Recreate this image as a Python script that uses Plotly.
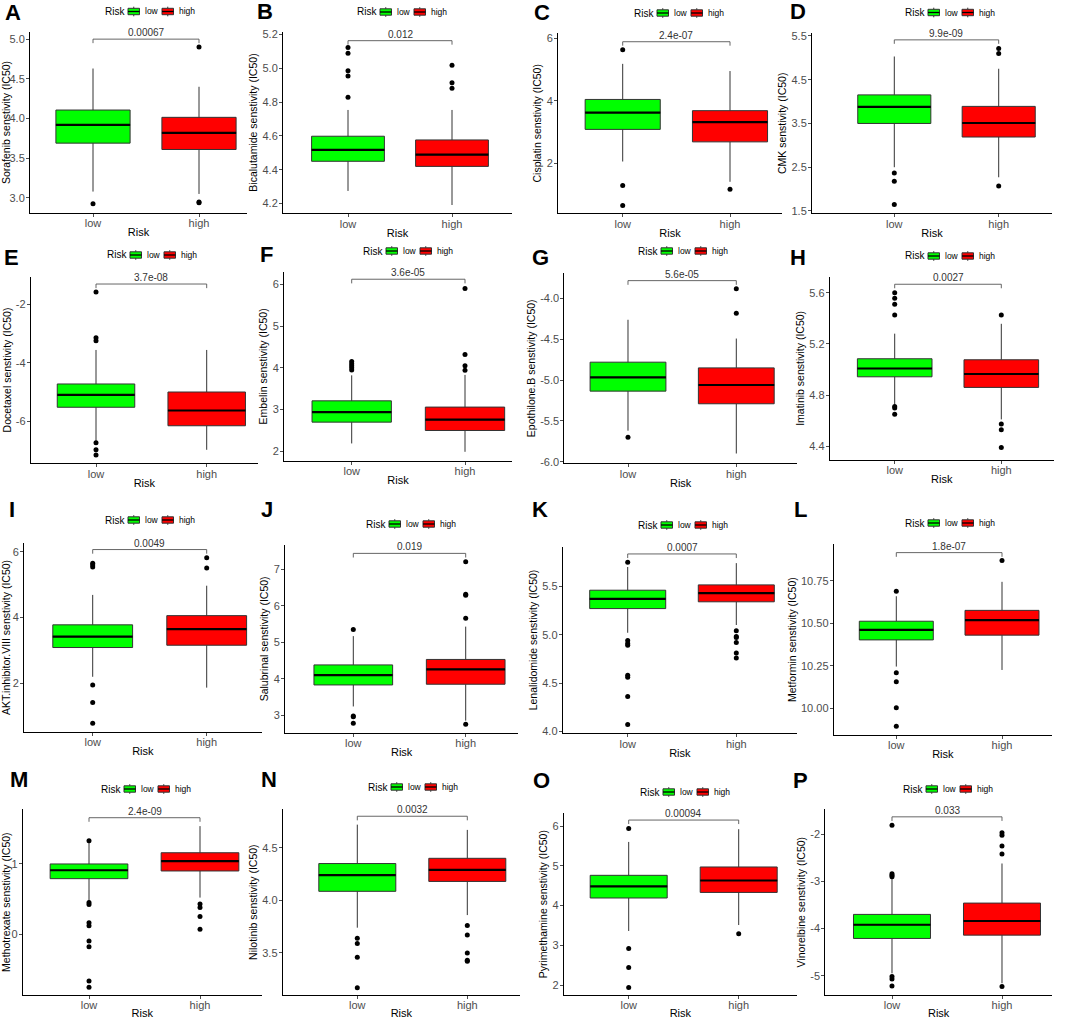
import plotly.graph_objects as go

W, H = 1065, 1019

# ---- data ----
letters = list("ABCDEFGHIJKLMNOP")
drugs = ["Sorafenib", "Bicalutamide", "Cisplatin", "CMK", "Docetaxel", "Embelin",
         "Epothilone.B", "Imatinib", "AKT.inhibitor.VIII", "Salubrinal", "Lenalidomide",
         "Metformin", "Methotrexate", "Nilotinib", "Pyrimethamine", "Vinorelbine"]
p_labels = ["0.00067", "0.012", "2.4e-07", "9.9e-09", "3.7e-08", "3.6e-05", "5.6e-05", "0.0027",
            "0.0049", "0.019", "0.0007", "1.8e-07", "2.4e-09", "0.0032", "0.00094", "0.033"]
groups = ["low", "high"]

low_q1 = [3.69, 4.45, 3.09, 3.50, -5.51, 2.70, -5.135, 4.943, 3.09, 3.83, 5.27, 10.403, 0.79, 4.086, 4.19, -4.21]
low_med = [3.92, 4.517, 3.63, 3.88, -5.09, 2.94, -4.967, 5.008, 3.42, 4.10, 5.37, 10.462, 0.91, 4.24, 4.48, -3.92]
low_q3 = [4.107, 4.598, 4.05, 4.153, -4.716, 3.21, -4.78, 5.084, 3.78, 4.38, 5.46, 10.513, 1.00, 4.35, 4.76, -3.70]
low_lo = [3.08, 4.275, 2.06, 2.50, -6.657, 2.19, -5.62, 4.726, 2.20, 3.24, 5.02, 10.246, 0.46, 3.74, 3.36, -4.95]
low_hi = [4.63, 4.753, 5.19, 5.03, -3.557, 3.82, -4.26, 5.28, 4.69, 5.17, 5.70, 10.66, 1.30, 4.72, 5.60, -2.95]

high_q1 = [3.61, 4.42, 2.69, 3.19, -6.14, 2.50, -5.29, 4.86, 3.16, 3.85, 5.34, 10.431, 0.90, 4.18, 4.33, -4.14]
high_med = [3.82, 4.489, 3.32, 3.51, -5.62, 2.76, -5.06, 4.965, 3.65, 4.26, 5.43, 10.52, 1.04, 4.29, 4.63, -3.84]
high_q3 = [4.015, 4.576, 3.69, 3.89, -4.99, 3.06, -4.85, 5.076, 4.06, 4.53, 5.515, 10.577, 1.16, 4.40, 4.97, -3.46]
high_lo = [3.05, 4.192, 1.41, 2.27, -6.96, 1.99, -5.90, 4.61, 1.87, 2.85, 5.10, 10.226, 0.52, 3.86, 3.51, -5.16]
high_hi = [4.40, 4.753, 4.96, 4.75, -3.557, 3.83, -4.49, 5.357, 4.97, 5.43, 5.74, 10.745, 1.54, 4.67, 5.92, -2.62]

low_out = [
    [2.925],
    [5.121, 5.088, 4.985, 4.954, 4.828],
    [5.64, 1.29, 0.65],
    [2.37, 2.18, 1.65],
    [-1.58, -3.14, -3.24, -6.72, -6.96, -7.14],
    [3.95, 4.0, 4.05, 4.1, 4.15],
    [-5.70],
    [5.60, 5.556, 5.51, 5.426, 4.71, 4.70, 4.65],
    [5.65, 5.6, 5.54, 1.95, 1.42, 0.79],
    [5.35, 2.98, 2.96, 2.78],
    [5.75, 4.94, 4.91, 4.89, 4.58, 4.56, 4.36, 4.07],
    [10.69, 10.21, 10.157, 10.003, 9.895],
    [1.33, 0.45, 0.42, 0.16, 0.12, -0.10, -0.18, -0.67, -0.76],
    [3.64, 3.59, 3.46, 3.17],
    [5.94, 2.92, 2.44, 1.94],
    [-1.81, -2.84, -2.87, -2.90, -5.02, -5.07, -5.22],
]
high_out = [
    [4.90, 2.95, 2.94],
    [5.017, 4.914, 4.881],
    [1.17],
    [5.21, 5.10, 2.07],
    [],
    [5.90, 4.32, 4.05, 3.94],
    [-3.88, -4.18],
    [5.426, 4.575, 4.53, 4.39],
    [5.82, 5.51],
    [7.21, 6.32, 6.29, 5.66, 2.75],
    [5.04, 4.98, 4.97, 4.92, 4.81, 4.76],
    [10.87],
    [0.43, 0.38, 0.25, 0.07],
    [3.76, 3.67, 3.50, 3.43, 3.42],
    [3.29],
    [-1.97, -2.02, -2.25, -2.42, -5.23],
]
bracket_top = [5.0, 5.162, 5.90, 5.41, -1.31, 6.12, -3.78, 5.666,
               6.07, 7.44, 5.835, 10.917, 1.66, 4.80, 6.15, -1.63]

y_ticks = [
    [3.0, 3.5, 4.0, 4.5, 5.0], [4.2, 4.4, 4.6, 4.8, 5.0, 5.2], [2, 4, 6], [1.5, 2.5, 3.5, 4.5, 5.5],
    [-6, -4, -2], [2, 3, 4, 5, 6], [-6.0, -5.5, -5.0, -4.5, -4.0], [4.4, 4.8, 5.2, 5.6],
    [2, 4, 6], [3, 4, 5, 6, 7], [4.0, 4.5, 5.0, 5.5], [10.00, 10.25, 10.50, 10.75],
    [0, 1], [3.5, 4.0, 4.5], [2, 3, 4, 5, 6], [-5, -4, -3, -2],
]
tick_fmt = [".1f", ".1f", ".0f", ".1f", ".0f", ".0f", ".1f", ".1f",
            ".0f", ".0f", ".1f", ".2f", ".0f", ".1f", ".0f", ".0f"]

# ---- panel layout (pixels in the 1065x1019 page) ----
y_range = [[2.81, 5.09], [4.143, 5.215], [0.40, 6.17], [1.447, 5.56],
           [-7.42, -1.06], [1.77, 6.30], [-6.02, -3.69], [4.293, 5.725],
           [0.53, 6.26], [2.52, 7.67], [3.98, 5.91], [9.843, 10.966],
           [-0.87, 1.78], [3.10, 4.866], [1.75, 6.32], [-5.41, -1.47]]
px_x0 = [30, 283, 558, 812, 30.7, 284, 564.3, 829.7, 24, 285, 562.7, 833.7, 22.7, 282.7, 563.7, 825.3]
px_x1 = [247, 512, 782, 1052, 258, 512, 797, 1053.7, 261.7, 518.3, 797, 1052, 261.7, 520, 797, 1052]
px_low = [93, 348, 622.7, 894.3, 96, 351.7, 628, 894.7, 92.7, 353.3, 627.7, 896.3, 89, 357.3, 628.7, 892]
px_high = [199, 452, 730, 998.7, 206.7, 465, 736.3, 1001.3, 206.7, 465.7, 736.3, 1002, 200, 467.3, 738.7, 1002]
px_top = [32, 31.7, 33.3, 33.3, 276.7, 271.7, 273.3, 276.7, 543.3, 545, 546.7, 544.3, 809.3, 809.3, 813.3, 809.3]
px_bot = [213, 213.3, 213.3, 213.3, 463.3, 461, 463.3, 460, 731.7, 732.7, 733.3, 735, 995, 995, 995, 995]
leg_left = [105, 357, 634, 905, 107, 363, 638, 905, 105, 366, 638, 905, 101, 368, 640, 903]
leg_y = [11.5, 12, 13, 12.5, 255, 251, 251, 256, 520, 524, 525, 523, 789, 787, 792, 789]
letter_xy = [(13, 12.5), (265, 12), (542, 12.5), (798, 12), (11.5, 257), (266, 255), (540, 257), (798, 257),
             (12, 510), (267, 510), (540, 509), (800, 510), (19, 779), (269, 779), (541, 780), (800, 780)]

FONT = "Arial, Liberation Sans, sans-serif"
GREEN, RED = "#00FF00", "#FF0000"
TICK_GREY = "#4D4D4D"
BOX_W = 0.7


def px(x, y):
    return x / W, 1 - y / H


def seg(x0, y0, x1, y1, color, width):
    a0, b0 = px(x0, y0)
    a1, b1 = px(x1, y1)
    return dict(type="line", xref="paper", yref="paper", x0=a0, y0=b0, x1=a1, y1=b1,
                line=dict(color=color, width=width))


fig = go.Figure()
annotations = []
shapes = []
layout = {}

for i in range(16):
    k = "" if i == 0 else str(i + 1)
    xa, ya = "x" + k, "y" + k

    stats = [
        (1, low_q1[i], low_med[i], low_q3[i], low_lo[i], low_hi[i], GREEN, "low"),
        (2, high_q1[i], high_med[i], high_q3[i], high_lo[i], high_hi[i], RED, "high"),
    ]
    for pos, q1, med, q3, lo, hi, col, nm in stats:
        fig.add_trace(go.Box(
            x=[pos], q1=[q1], median=[med], q3=[q3], lowerfence=[lo], upperfence=[hi],
            width=BOX_W, whiskerwidth=0, fillcolor=col, line=dict(color="#333333", width=1),
            boxpoints=False, name=nm, showlegend=False,
            xaxis=xa, yaxis=ya, hoverinfo="skip"))
        # thicker black median like ggplot
        fig.add_trace(go.Scatter(
            x=[pos - BOX_W / 2, pos + BOX_W / 2], y=[med, med], mode="lines",
            line=dict(color="black", width=2.2), showlegend=False,
            xaxis=xa, yaxis=ya, hoverinfo="skip"))

    ox = [1] * len(low_out[i]) + [2] * len(high_out[i])
    oy = low_out[i] + high_out[i]
    fig.add_trace(go.Scatter(
        x=ox, y=oy, mode="markers", marker=dict(color="black", size=5),
        showlegend=False, xaxis=xa, yaxis=ya, hoverinfo="skip"))

    # significance bracket
    span = y_range[i][1] - y_range[i][0]
    top = bracket_top[i]
    tip = top - 0.022 * span
    fig.add_trace(go.Scatter(
        x=[1, 1, 2, 2], y=[tip, top, top, tip], mode="lines",
        line=dict(color="#555555", width=0.9), showlegend=False,
        xaxis=xa, yaxis=ya, hoverinfo="skip"))
    annotations.append(dict(
        x=1.5, y=top, xref=xa, yref=ya, text=p_labels[i], showarrow=False,
        yanchor="bottom", yshift=-1, font=dict(family=FONT, size=10, color="#333333")))

    # axes
    unit = px_high[i] - px_low[i]
    x_lo = 1 - (px_low[i] - px_x0[i]) / unit
    x_hi = 2 + (px_x1[i] - px_high[i]) / unit
    layout["xaxis" + k] = dict(
        domain=[px_x0[i] / W, px_x1[i] / W], range=[x_lo, x_hi], anchor=ya,
        tickvals=[1, 2], ticktext=groups, showline=True, linecolor="black", linewidth=1,
        ticks="outside", ticklen=3, tickcolor=TICK_GREY, showgrid=False, zeroline=False,
        ticklabelstandoff=-3, automargin=False,
        tickfont=dict(family=FONT, size=11, color=TICK_GREY),
        title=dict(text="Risk", standoff=0, font=dict(family=FONT, size=11, color="black")))
    layout["yaxis" + k] = dict(
        domain=[1 - px_bot[i] / H, 1 - px_top[i] / H], range=y_range[i], anchor=xa,
        tickvals=y_ticks[i], ticktext=[format(v, tick_fmt[i]) for v in y_ticks[i]],
        showline=True, linecolor="black", linewidth=1, ticks="outside", ticklen=3,
        tickcolor=TICK_GREY, showgrid=False, zeroline=False, automargin=False,
        ticklabelstandoff=-1,
        tickfont=dict(family=FONT, size=11, color=TICK_GREY),
        title=dict(text=drugs[i] + " senstivity (IC50)", standoff=2,
                   font=dict(family=FONT, size=10.5, color="black")))

    # ggplot-style legend drawn above each panel: "Risk [key] low [key] high"
    L, cy = leg_left[i], leg_y[i]
    x, y = px(L - 2, cy)
    annotations.append(dict(x=x, y=y, xref="paper", yref="paper", text="Risk", showarrow=False,
                            xanchor="left", yanchor="middle",
                            font=dict(family=FONT, size=10, color="black")))
    for off, col, nm in [(23, GREEN, "low"), (57, RED, "high")]:
        x0, y0 = px(L + off, cy - 3.2)
        x1, y1 = px(L + off + 11.5, cy + 3.2)
        shapes.append(dict(type="rect", xref="paper", yref="paper", x0=x0, x1=x1, y0=y0, y1=y1,
                           fillcolor=col, line=dict(color="#333333", width=1)))
        shapes.append(seg(L + off, cy, L + off + 11.5, cy, "black", 1.3))
        shapes.append(seg(L + off + 5.75, cy - 4.8, L + off + 5.75, cy - 3.2, "#333333", 1))
        shapes.append(seg(L + off + 5.75, cy + 3.2, L + off + 5.75, cy + 4.8, "#333333", 1))
        tx, ty = px(L + off + 15, cy)
        annotations.append(dict(x=tx, y=ty, xref="paper", yref="paper", text=nm, showarrow=False,
                                xanchor="left", yanchor="middle",
                                font=dict(family=FONT, size=8.5, color="black")))

    lx, ly = px(*letter_xy[i])
    annotations.append(dict(
        x=lx, y=ly, xref="paper", yref="paper",
        text="<b>" + letters[i] + "</b>", showarrow=False, xanchor="center", yanchor="middle",
        font=dict(family=FONT, size=22, color="black")))

fig.update_layout(**layout)
fig.update_layout(
    template="none",
    width=W, height=H, autosize=False,
    margin=dict(l=0, r=0, t=0, b=0, pad=0, autoexpand=False),
    paper_bgcolor="white", plot_bgcolor="white",
    hovermode=False, boxmode="overlay", showlegend=False,
    annotations=annotations, shapes=shapes,
    font=dict(family=FONT, color="black"),
)

# the page body has a default 8px margin; drop it so the figure fills the window
fig.write_html("out.html", config={"displayModeBar": False, "staticPlot": True},
               post_script="document.body.style.margin='0px';")
